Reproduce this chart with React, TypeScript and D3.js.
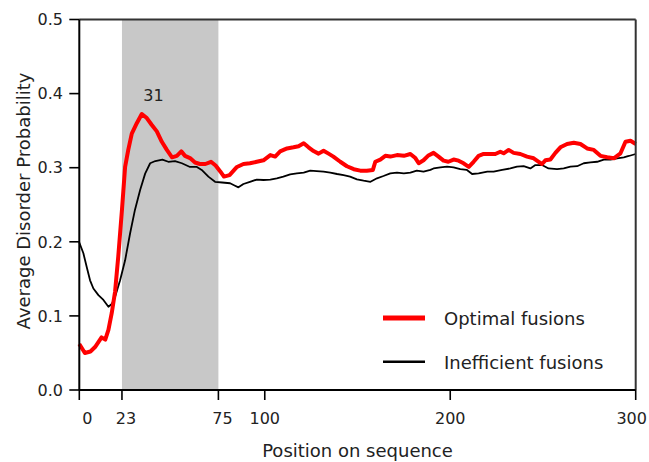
import React from "react";
import * as d3 from "d3";

const optimalPos = [0,3,6,8.5,12,14,15.7,17.5,19.3,21,23,24.7,26.4,28.3,31,33.7,36.4,39,41.8,44.5,47.2,50,52.6,55,57,59.7,62.4,65,68,71,73.5,76,78,81,85,88.5,92,95.7,99.3,103,105.6,108.3,112,115.5,118.2,121,123.6,126.3,129,131.7,134.4,137,140.7,144.3,148,151.5,155,158.3,159.6,162.3,165,167.7,171.3,175,178.5,181.2,183,185.6,188,191,193.7,196.4,199,201.8,204.5,207.2,210,212.6,215.3,218,221.6,224.3,227,228.8,231.5,234.2,237.8,241.4,245,247.7,249.5,251.3,254,256.7,259.4,263,266.6,270.2,273.8,277.4,281,284.6,288.2,291.8,294.5,297.2,300];
const optimalVal = [0.062,0.050,0.052,0.058,0.071,0.068,0.081,0.104,0.133,0.18,0.243,0.301,0.324,0.346,0.36,0.3725,0.367,0.358,0.349,0.335,0.324,0.314,0.316,0.322,0.316,0.313,0.307,0.305,0.305,0.308,0.303,0.295,0.288,0.290,0.301,0.305,0.306,0.308,0.31,0.317,0.315,0.322,0.326,0.3275,0.329,0.333,0.3275,0.3225,0.319,0.323,0.319,0.315,0.308,0.302,0.298,0.296,0.296,0.297,0.308,0.311,0.316,0.315,0.317,0.316,0.3185,0.313,0.306,0.31,0.316,0.32,0.315,0.3095,0.308,0.311,0.3095,0.306,0.301,0.308,0.316,0.3185,0.3185,0.3185,0.3216,0.3194,0.324,0.32,0.3185,0.315,0.3127,0.308,0.305,0.31,0.311,0.32,0.3275,0.332,0.3337,0.332,0.326,0.324,0.316,0.314,0.3127,0.3194,0.335,0.3364,0.332];

const inefficientPos = [0,2.2,4,5.8,7.6,10.3,13,15.7,17.5,19.3,22,24.7,27.4,30,32.8,35.5,38.2,41,44.8,48,51.6,55.3,59.7,63.4,66,69.6,73.2,77,81.3,83.7,85.8,88.5,92,95.7,99.3,103,106.5,110,113.7,117.3,121,124.5,128,131.7,135.3,139,142.5,146,149.7,153.3,157,160.5,164,167.7,171.3,175,178.5,182,185.6,189.3,191,194.7,198.3,201.8,205.4,209,211.8,215.3,220,223.4,228,232.4,236,239.6,243.2,245.9,249.5,253,257.6,261.2,264.8,268.4,272,275.6,279.2,282.8,286.4,290,293.6,296.3,300];
const inefficientVal = [0.199,0.1845,0.166,0.148,0.137,0.128,0.1215,0.1124,0.116,0.126,0.148,0.175,0.2115,0.243,0.27,0.292,0.306,0.309,0.311,0.308,0.309,0.306,0.301,0.301,0.297,0.288,0.281,0.28,0.279,0.276,0.2735,0.278,0.281,0.284,0.2834,0.284,0.2857,0.288,0.291,0.2924,0.2933,0.296,0.2955,0.2946,0.2933,0.2915,0.29,0.288,0.2843,0.2825,0.281,0.2857,0.2888,0.2924,0.2933,0.2924,0.2933,0.296,0.2946,0.297,0.299,0.3005,0.3014,0.3005,0.298,0.297,0.2915,0.2924,0.2946,0.2946,0.297,0.299,0.3014,0.302,0.299,0.3036,0.3036,0.299,0.298,0.299,0.3014,0.302,0.306,0.3073,0.308,0.311,0.311,0.3127,0.314,0.3158,0.3185];

const xTicks = [0, 23, 75, 100, 200, 300];
const yTicks = [0, 0.1, 0.2, 0.3, 0.4, 0.5];
const shadedRegion = [23, 75];
const peakLabel = { text: "31", pos: 40, val: 0.398 };
const seriesNames = ["Optimal fusions", "Inefficient fusions"];

const FONT = "'DejaVu Sans', Verdana, sans-serif";

export default function App() {
  const W = 649, H = 462;
  const left = 79.3, right = 635.7, top = 19.5, bottom = 390;
  const x = d3.scaleLinear().domain([0, 300]).range([left, right]);
  const y = d3.scaleLinear().domain([0, 0.5]).range([bottom, top]);
  const line = d3.line<[number, number]>().x(d => x(d[0])).y(d => y(d[1]));
  const opt: [number, number][] = optimalPos.map((p, i) => [p, optimalVal[i]]);
  const ineff: [number, number][] = inefficientPos.map((p, i) => [p, inefficientVal[i]]);
  const labelDx: Record<number, number> = { 0: 8, 23: 4, 75: 4, 300: -4 };

  return (
    <svg width={W} height={H} style={{ position: "absolute", left: 0, top: 0, background: "#fff" }}>
      <rect x={x(shadedRegion[0])} y={top} width={x(shadedRegion[1]) - x(shadedRegion[0])} height={bottom - top} fill="#c8c8c8" />
      <path d={line(ineff) || ""} fill="none" stroke="#000" strokeWidth={1.8} strokeLinejoin="round" />
      <path d={line(opt) || ""} fill="none" stroke="#ff0000" strokeWidth={4} strokeLinejoin="round" />
      <line x1={left} x2={right} y1={top} y2={top} stroke="#333" strokeWidth={2} />
      <line x1={right} x2={right} y1={top} y2={bottom} stroke="#333" strokeWidth={2} />
      <line x1={left} x2={right} y1={bottom} y2={bottom} stroke="#000" strokeWidth={2} />
      <line x1={left} x2={left} y1={top} y2={bottom} stroke="#000" strokeWidth={2} />
      {xTicks.map(t => (
        <g key={"x" + t}>
          <line x1={x(t)} x2={x(t)} y1={bottom} y2={bottom + 10} stroke="#000" strokeWidth={1.6} />
          <text x={x(t) + (labelDx[t] || 0)} y={424} textAnchor="middle" fontFamily={FONT} fontSize={16} fill="#222">{t}</text>
        </g>
      ))}
      {yTicks.map(t => (
        <g key={"y" + t}>
          <line x1={left - 10} x2={left} y1={y(t)} y2={y(t)} stroke="#000" strokeWidth={1.6} />
          <text x={63} y={y(t)} dy="0.36em" textAnchor="end" fontFamily={FONT} fontSize={16} fill="#222">{d3.format(".1f")(t)}</text>
        </g>
      ))}
      <text x={x(peakLabel.pos)} y={y(peakLabel.val) + 6} textAnchor="middle" fontFamily={FONT} fontSize={16} fill="#222">{peakLabel.text}</text>
      <text x={(left + right) / 2} y={457} textAnchor="middle" fontFamily={FONT} fontSize={18} fill="#222">Position on sequence</text>
      <text transform={`translate(30,201) rotate(-90)`} textAnchor="middle" fontFamily={FONT} fontSize={18} fill="#222">Average Disorder Probability</text>
      <line x1={383} x2={425} y1={318} y2={318} stroke="#ff0000" strokeWidth={5} />
      <text x={444} y={324.5} fontFamily={FONT} fontSize={18} fill="#222">{seriesNames[0]}</text>
      <line x1={383} x2={425} y1={361.7} y2={361.7} stroke="#000" strokeWidth={2.5} />
      <text x={444} y={368.5} fontFamily={FONT} fontSize={18} fill="#222">{seriesNames[1]}</text>
    </svg>
  );
}
